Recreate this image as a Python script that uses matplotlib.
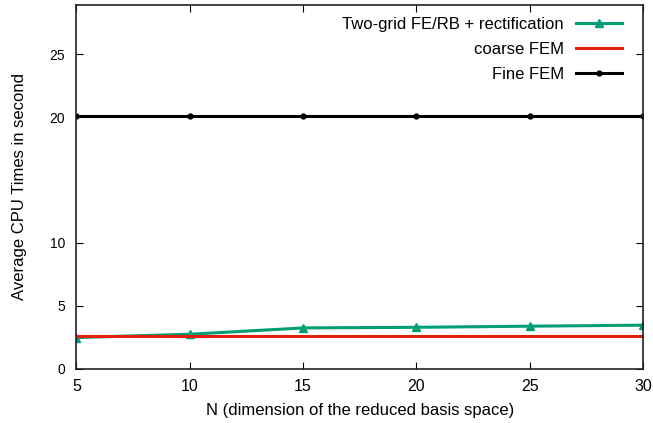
import numpy as np
import matplotlib
matplotlib.use("Agg")
import matplotlib.pyplot as plt

plt.rcParams.update({"font.family": ["Liberation Sans", "DejaVu Sans"]})

# -- data ------------------------------------------------
N = [5, 10, 15, 20, 25, 30]
two_grid = [2.49, 2.75, 3.25, 3.30, 3.39, 3.47]
coarse_fem = [2.58, 2.58, 2.58, 2.58, 2.58, 2.58]
fine_fem = [20.1, 20.1, 20.1, 20.1, 20.1, 20.1]
yticks = [0, 5, 10, 20, 25]

GREEN = "#009E73"
RED = "#E51E10"

fig, ax = plt.subplots(figsize=(6.53, 4.23), dpi=100)
fig.subplots_adjust(left=0.117, right=0.985, top=0.988, bottom=0.128)

ax.plot(N, two_grid, color=GREEN, lw=2.2, marker="^", ms=6,
        label="Two-grid FE/RB + rectification")
ax.plot(N, coarse_fem, color=RED, lw=2.2, marker=".", ms=2, label="coarse FEM")
ax.plot(N, fine_fem, color="black", lw=2.2, marker="o", ms=3.5, label="Fine FEM")

ax.set_xlim(5, 30)
ax.set_ylim(0, 28.9)
ax.set_xticks(N)
ax.set_yticks(yticks)
ax.tick_params(axis="x", labelsize=11.5, direction="in", top=True, length=5, pad=7)
ax.tick_params(axis="y", labelsize=10, direction="in", right=True, length=5, pad=8)
for s in ax.spines.values():
    s.set_linewidth(1.2)
    s.set_color("#222222")

ax.set_xlabel("N (dimension of the reduced basis space)", fontsize=12, labelpad=7)
ax.set_ylabel("Average CPU Times in second", fontsize=12, labelpad=16)

ax.legend(loc="upper right", bbox_to_anchor=(0.975, 0.985), frameon=False,
          markerfirst=False, fontsize=12, handlelength=2.8, handletextpad=0.7,
          borderaxespad=0.0, labelspacing=0.6)

fig.savefig("out.png", dpi=100)
